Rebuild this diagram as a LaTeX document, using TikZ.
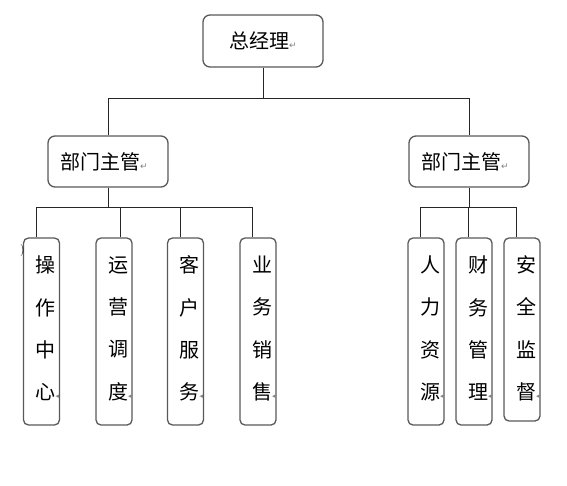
\documentclass[tikz,border=0pt]{standalone}
\usepackage{fontspec}
\newfontfamily\cjk{Noto Sans CJK SC}
\newfontfamily\sym{DejaVu Sans}
\newcommand{\pmark}{{\sym\fontsize{9}{9}\selectfont\textcolor{black!50}{↵}}}
\newcommand{\vmark}{\rlap{\raisebox{1pt}{\sym\fontsize{7}{7}\selectfont\textcolor{black!50}{◂}}}}
\tikzset{
  box/.style={draw=black!65, line width=1.3pt, rounded corners=7pt, fill=white, inner sep=0pt},
  vbox/.style={box, rounded corners=5pt, minimum width=36pt},
  conn/.style={draw=black!85, line width=0.8pt},
  htext/.style={font=\cjk\fontsize{20}{20}\selectfont},
  vtext/.style={align=center, inner sep=0pt, font=\cjk\fontsize{20}{42.3}\selectfont}
}
\begin{document}
\begin{tikzpicture}[x=1pt,y=-1pt]
\useasboundingbox (0,0) rectangle (567,486);
% top
\node[box, htext, minimum width=120pt, minimum height=52pt] (gm) at (263,41) {总经理\pmark};
% managers
\node[box, htext, minimum width=120pt, minimum height=51pt, text width=96pt, align=left] (m1) at (108,161.5) {部门主管\pmark};
\node[box, htext, minimum width=120pt, minimum height=51pt, text width=96pt, align=left] (m2) at (469,161.5) {部门主管\pmark};
% left group boxes
\node[vbox, minimum height=187pt] (b1) at (41.5,331.5) {};
\node[vbox, minimum height=187pt] (b2) at (114,331.5) {};
\node[vbox, minimum height=187pt] (b3) at (185.5,331.5) {};
\node[vbox, minimum height=187pt] (b4) at (258,331.5) {};
% right group boxes
\node[vbox, minimum height=187pt] (r1) at (426,331.5) {};
\node[vbox, minimum height=187pt] (r2) at (474,331.5) {};
\node[vbox, minimum height=183pt] (r3) at (522,329.5) {};
% vertical texts
\node[vtext] (t1) at ([xshift=4pt,yshift=3pt]b1.center) {操\\作\\中\\心\vmark};
\node[vtext] (t2) at ([xshift=4pt,yshift=3pt]b2.center) {运\\营\\调\\度\vmark};
\node[vtext] (t3) at ([xshift=4pt,yshift=3pt]b3.center) {客\\户\\服\\务\vmark};
\node[vtext] (t4) at ([xshift=4pt,yshift=3pt]b4.center) {业\\务\\销\\售\vmark};
\node[vtext] (t5) at ([xshift=4pt,yshift=3pt]r1.center) {人\\力\\资\\源\vmark};
\node[vtext] (t6) at ([xshift=4pt,yshift=3pt]r2.center) {财\\务\\管\\理\vmark};
\node[vtext] (t7) at ([xshift=4pt,yshift=1pt]r3.center) {安\\全\\监\\督\vmark};
% stray mark
\node[inner sep=0pt, font=\fontsize{12}{12}\selectfont] (stray) at (22.5,251) {)};
% connectors
\draw[conn] (gm.south) -- ++(0,31) -| (m1.north);
\draw[conn] (gm.south) -- ++(0,31) -| (m2.north);
\draw[conn] (m1.south) -- ++(0,20) -| ([xshift=-5.5pt]b1.north);
\draw[conn] (m1.south) -- ++(0,20) -| ([xshift=6pt]b2.north);
\draw[conn] (m1.south) -- ++(0,20) -| ([xshift=-5.5pt]b3.north);
\draw[conn] (m1.south) -- ++(0,20) -| ([xshift=-6pt]b4.north);
\draw[conn] (m2.south) -- ++(0,20) -| ([xshift=-6pt]r1.north);
\draw[conn] (m2.south) -- ++(0,20) -| ([xshift=-6pt]r2.north);
\draw[conn] (m2.south) -- ++(0,20) -| ([xshift=-6pt]r3.north);
\end{tikzpicture}
\end{document}
